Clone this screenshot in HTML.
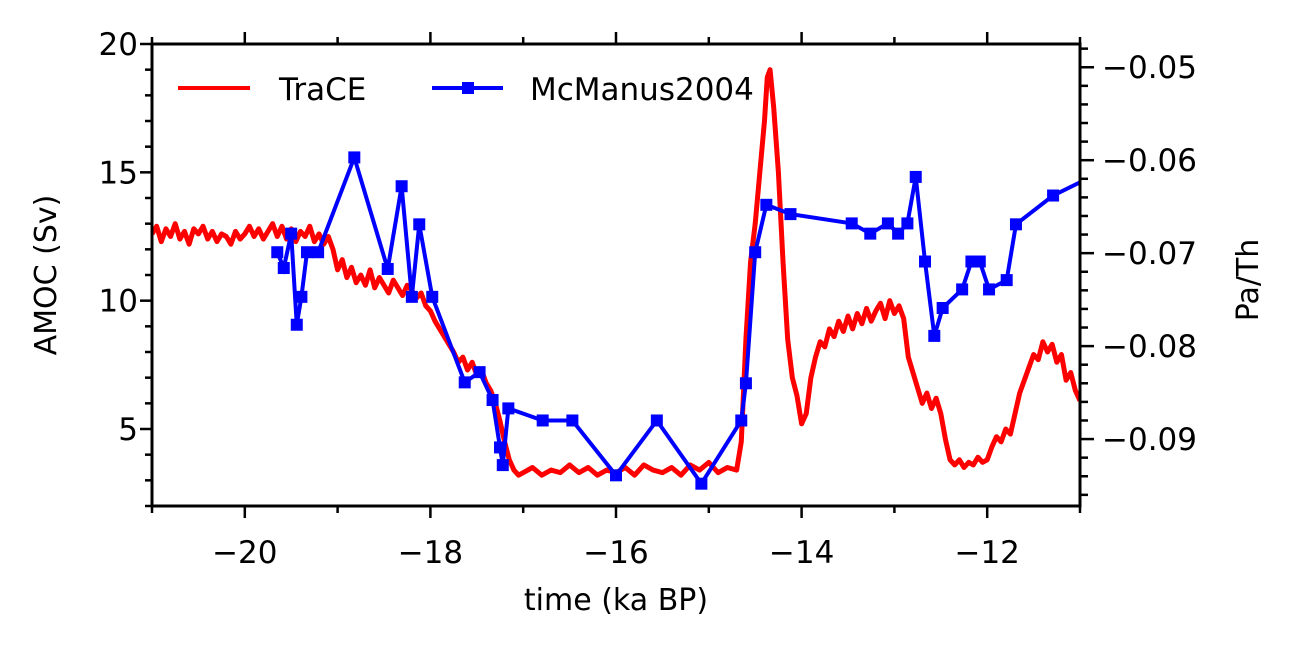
<!DOCTYPE html>
<html><head><meta charset="utf-8"><style>
body{margin:0;background:#fff}
svg{display:block;font-family:"DejaVu Sans","Liberation Sans",sans-serif}
</style></head><body>
<svg id="chart" width="1292" height="648">
<defs><clipPath id="clip"><rect x="152" y="44" width="928" height="462"/></clipPath></defs>
<g id="plot" clip-path="url(#clip)"></g>
<g id="axes"></g>
<text x="616" y="610" font-size="30" text-anchor="middle">time (ka BP)</text>
<text transform="translate(56,275) rotate(-90)" font-size="30" text-anchor="middle">AMOC (Sv)</text>
<text transform="translate(1258,280) rotate(-90)" font-size="30" text-anchor="middle">Pa/Th</text>
<g>
<line x1="178" y1="88" x2="250" y2="88" stroke="#f00" stroke-width="4"/>
<text x="279" y="100" font-size="31">TraCE</text>
<line x1="432" y1="88" x2="503" y2="88" stroke="#00f" stroke-width="4"/>
<rect x="462" y="82" width="12" height="12" fill="#00f"/>
<text x="530" y="100" font-size="31">McManus2004</text>
</g>
</svg>
<script>
const traceT=[-21,-20.95,-20.9,-20.85,-20.8,-20.75,-20.7,-20.65,-20.6,-20.55,-20.5,-20.45,-20.4,-20.35,-20.3,-20.25,-20.2,-20.15,-20.1,-20.05,-20,-19.95,-19.9,-19.85,-19.8,-19.75,-19.7,-19.65,-19.6,-19.55,-19.5,-19.45,-19.4,-19.35,-19.3,-19.25,-19.2,-19.15,-19.1,-19.05,-19.0,-18.95,-18.9,-18.85,-18.8,-18.75,-18.7,-18.65,-18.6,-18.55,-18.5,-18.45,-18.4,-18.35,-18.3,-18.25,-18.2,-18.15,-18.1,-18.05,-18.0,-17.95,-17.9,-17.85,-17.8,-17.75,-17.7,-17.65,-17.6,-17.55,-17.5,-17.45,-17.4,-17.35,-17.3,-17.25,-17.2,-17.15,-17.1,-17.05,-17.0,-16.9,-16.8,-16.7,-16.6,-16.5,-16.4,-16.3,-16.2,-16.1,-16.0,-15.9,-15.8,-15.7,-15.6,-15.5,-15.4,-15.3,-15.2,-15.1,-15.0,-14.9,-14.8,-14.7,-14.65,-14.6,-14.55,-14.5,-14.45,-14.4,-14.37,-14.34,-14.3,-14.25,-14.2,-14.15,-14.1,-14.05,-14.0,-13.95,-13.9,-13.85,-13.8,-13.75,-13.7,-13.65,-13.6,-13.55,-13.5,-13.45,-13.4,-13.35,-13.3,-13.25,-13.2,-13.15,-13.1,-13.05,-13.0,-12.95,-12.9,-12.85,-12.8,-12.75,-12.7,-12.65,-12.6,-12.55,-12.5,-12.45,-12.4,-12.35,-12.3,-12.25,-12.2,-12.15,-12.1,-12.05,-12.0,-11.95,-11.9,-11.85,-11.8,-11.75,-11.7,-11.65,-11.6,-11.55,-11.5,-11.45,-11.4,-11.35,-11.3,-11.25,-11.2,-11.15,-11.1,-11.05,-11.0];
const traceV=[12.6,12.9,12.3,12.8,12.5,13.0,12.4,12.7,12.2,12.8,12.6,12.9,12.4,12.7,12.3,12.6,12.5,12.2,12.7,12.4,12.6,12.9,12.5,12.8,12.4,12.7,13.0,12.5,12.9,12.4,12.8,12.3,12.7,12.5,12.9,12.3,12.6,12.2,12.5,12.0,11.2,11.6,10.9,11.3,10.7,11.0,10.6,11.2,10.5,10.9,10.6,10.3,10.8,10.5,10.2,10.6,10.4,10.1,10.3,9.8,9.6,9.2,8.9,8.6,8.3,8.0,7.6,7.8,7.3,7.6,7.1,7.3,6.8,6.5,6.0,5.3,4.5,3.8,3.4,3.2,3.3,3.5,3.2,3.4,3.3,3.6,3.3,3.5,3.2,3.4,3.3,3.5,3.2,3.6,3.4,3.3,3.5,3.2,3.6,3.4,3.7,3.3,3.5,3.4,4.5,8.5,11.5,13.0,15.0,17.0,18.7,19.0,17.5,15.0,11.5,8.5,7.0,6.3,5.2,5.6,7.0,7.8,8.4,8.2,8.9,8.6,9.2,8.8,9.4,8.9,9.5,9.1,9.7,9.2,9.6,9.9,9.3,10.0,9.5,9.8,9.3,7.8,7.2,6.6,6.0,6.4,5.8,6.2,5.6,4.6,3.8,3.6,3.8,3.5,3.7,3.6,3.9,3.7,3.8,4.3,4.7,4.5,5.0,4.8,5.6,6.4,6.9,7.4,7.9,7.7,8.4,8.0,8.3,7.6,7.9,6.9,7.2,6.5,6.1];
const mcT=[-19.65,-19.58,-19.5,-19.44,-19.39,-19.33,-19.21,-18.82,-18.46,-18.31,-18.2,-18.12,-17.98,-17.63,-17.47,-17.33,-17.25,-17.22,-17.16,-16.79,-16.47,-16.0,-15.56,-15.08,-14.65,-14.6,-14.5,-14.38,-14.12,-13.46,-13.26,-13.07,-12.96,-12.86,-12.77,-12.67,-12.57,-12.48,-12.27,-12.17,-12.08,-11.98,-11.79,-11.69,-11.29,-10.8];
const mcV=[-0.0699,-0.0716,-0.0679,-0.0777,-0.0747,-0.0699,-0.0699,-0.0597,-0.0717,-0.0628,-0.0747,-0.0669,-0.0747,-0.0839,-0.0828,-0.0858,-0.0909,-0.0928,-0.0867,-0.0880,-0.0880,-0.0939,-0.0880,-0.0948,-0.0880,-0.0840,-0.0699,-0.0648,-0.0658,-0.0668,-0.0679,-0.0668,-0.0679,-0.0668,-0.0618,-0.0709,-0.0789,-0.0759,-0.0739,-0.0709,-0.0709,-0.0739,-0.0729,-0.0669,-0.0638,-0.0614];
const xTicks=[-20,-18,-16,-14,-12];
const yTicks=[5,10,15,20];
const y2Ticks=[-0.05,-0.06,-0.07,-0.08,-0.09];
const y2Labels=['\u22120.05','\u22120.06','\u22120.07','\u22120.08','\u22120.09'];

const L=152,R=1080,T=44,B=506;
const X=t=>L+(t+21)/10*(R-L);
const Y=v=>B-(v-2)/18*(B-T);
const Y2=v=>B-(v+0.0972)/0.0497*(B-T);
const NS='http://www.w3.org/2000/svg';
function mk(tag,attrs,parent){const e=document.createElementNS(NS,tag);for(const k in attrs)e.setAttribute(k,attrs[k]);parent.appendChild(e);return e;}
const plot=document.getElementById('plot'),axes=document.getElementById('axes');
const fmt=v=>(v<0?'\u2212':'')+Math.abs(v);

let tr=mk('polyline',{points:traceT.map((t,i)=>X(t)+','+Y(traceV[i])).join(' '),fill:'none',stroke:'#f00','stroke-width':5,'stroke-linejoin':'round'},plot);


let mc=mk('polyline',{points:mcT.map((t,i)=>X(t)+','+Y2(mcV[i])).join(' '),fill:'none',stroke:'#00f','stroke-width':4},plot);


mcT.forEach((t,i)=>{
  const m=mk('rect',{x:X(t)-6,y:Y2(mcV[i])-6,width:12,height:12,fill:'#00f'},plot);
  
  
});

const fr=mk('rect',{x:L,y:T,width:R-L,height:B-T,fill:'none',stroke:'#000','stroke-width':3},axes);


for(let t=-21;t<=-11;t++){
  const x=X(t),maj=xTicks.includes(t),len=maj?12:7;
  mk('line',{x1:x,y1:B,x2:x,y2:B+len,stroke:'#000','stroke-width':2.5},axes);
  mk('line',{x1:x,y1:T,x2:x,y2:T-len,stroke:'#000','stroke-width':2.5},axes);
}
xTicks.forEach(t=>{
  const lb=mk('text',{x:X(t),y:563,'font-size':31,'text-anchor':'middle'},axes);lb.textContent=fmt(t);
  
  
});
for(let v=2;v<=20;v++){
  const y=Y(v),len=yTicks.includes(v)?12:7;
  mk('line',{x1:L,y1:y,x2:L-len,y2:y,stroke:'#000','stroke-width':2.5},axes);
}
yTicks.forEach(v=>{
  const lb=mk('text',{x:L-14,y:Y(v)+11,'font-size':31,'text-anchor':'end'},axes);lb.textContent=v;
  
  
});
for(let k=-48;k>=-97;k-=2){
  const v=k/1000,y=Y2(v),maj=(k%10===0),len=maj?14:8;
  mk('line',{x1:R,y1:y,x2:R+len,y2:y,stroke:'#000','stroke-width':2.5},axes);
}
y2Ticks.forEach((v,i)=>{
  const lb=mk('text',{x:R+22,y:Y2(v)+11,'font-size':31},axes);lb.textContent=y2Labels[i];
  
  
});
</script>
</body></html>
